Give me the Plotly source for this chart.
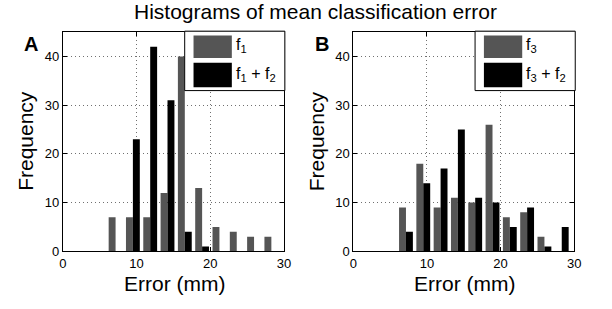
import plotly.graph_objects as go
from plotly.subplots import make_subplots

bin_centers = [7.15, 9.5, 11.85, 14.2, 16.55, 18.9, 21.25, 23.6, 25.95, 28.3]
f1 = [7, 7, 7, 12, 40, 13, 5, 4, 3, 3]
f1_f2 = [0, 23, 42, 31, 4, 1, 0, 0, 0, 0]
f3 = [9, 18, 9, 11, 10, 26, 7, 8, 3, 0]
f3_f2 = [4, 14, 17, 25, 11, 10, 5, 9, 1, 5]
x_ticks = [0, 10, 20, 30]
y_ticks = [0, 10, 20, 30, 40]

GRAY = "#555555"
BLACK = "#000000"
FONT = "Arial, Liberation Sans, sans-serif"
W, H = 612, 309

fig = make_subplots(rows=1, cols=2)
fig.add_trace(go.Bar(x=bin_centers, y=f1, marker_color=GRAY, marker_line_width=0, showlegend=False), 1, 1)
fig.add_trace(go.Bar(x=bin_centers, y=f1_f2, marker_color=BLACK, marker_line_width=0, showlegend=False), 1, 1)
fig.add_trace(go.Bar(x=bin_centers, y=f3, marker_color=GRAY, marker_line_width=0, showlegend=False), 1, 2)
fig.add_trace(go.Bar(x=bin_centers, y=f3_f2, marker_color=BLACK, marker_line_width=0, showlegend=False), 1, 2)

def px(x):
    return x / W

def py(y):
    return 1 - y / H

panels = [(60, 285), (355.7, 580.7)]
top, bottom = 33, 258

axis_common = dict(showline=True, linecolor="black", linewidth=1, mirror="ticks",
                   ticks="inside", ticklen=4, tickcolor="black",
                   showgrid=True, gridcolor="#707070", griddash="1px,3px", gridwidth=1,
                   zeroline=False, tickfont=dict(family=FONT, size=13, color="black"))

for i, (l, r) in enumerate(panels):
    xa = "xaxis" if i == 0 else "xaxis2"
    ya = "yaxis" if i == 0 else "yaxis2"
    fig.layout[xa].update(domain=[px(l), px(r)], range=[0, 30], tickvals=x_ticks, **axis_common)
    fig.layout[ya].update(domain=[py(bottom), py(top)], range=[0, 45], tickvals=y_ticks, **axis_common)

layout_annots = []
layout_annots.append(dict(text="Histograms of mean classification error", x=px(317),
                          y=py(12), xref="paper", yref="paper", showarrow=False,
                          font=dict(family=FONT, size=21, color="black"), xanchor="center", yanchor="middle"))
for i, (l, r) in enumerate(panels):
    layout_annots.append(dict(text="Error (mm)", x=px((l + r) / 2 + 1), y=py(291), xref="paper", yref="paper",
                              showarrow=False, font=dict(family=FONT, size=21, color="black"),
                              xanchor="center", yanchor="middle"))
    layout_annots.append(dict(text="Frequency", x=px(l - 38), y=py(145), xref="paper", yref="paper",
                              showarrow=False, textangle=-90, font=dict(family=FONT, size=21, color="black"),
                              xanchor="center", yanchor="middle"))
    layout_annots.append(dict(text="<b>" + "AB"[i] + "</b>", x=px(l - 32), y=py(45), xref="paper", yref="paper",
                              showarrow=False, font=dict(family=FONT, size=20, color="black"),
                              xanchor="center", yanchor="middle"))

legend_labels = [["f<sub>1</sub>", "f<sub>1</sub> + f<sub>2</sub>"],
                 ["f<sub>3</sub>", "f<sub>3</sub> + f<sub>2</sub>"]]
shapes = []
for i, (l, r) in enumerate(panels):
    bl, br, bt, bb = r - 101, r + 1, 32, 93
    shapes.append(dict(type="rect", xref="paper", yref="paper", x0=px(bl), x1=px(br), y0=py(bb), y1=py(bt),
                       line=dict(color="black", width=1), fillcolor="white", layer="above"))
    for j, (col, (t0, t1)) in enumerate([(GRAY, (36.5, 59.5)), (BLACK, (64.5, 89.5))]):
        shapes.append(dict(type="rect", xref="paper", yref="paper", x0=px(bl + 9), x1=px(bl + 48),
                           y0=py(t1), y1=py(t0), line=dict(color=col, width=0), fillcolor=col, layer="above"))
        layout_annots.append(dict(text=legend_labels[i][j], x=px(bl + 50), y=py((t0 + t1) / 2 - 1),
                                  xref="paper", yref="paper", showarrow=False,
                                  font=dict(family=FONT, size=16, color="black"),
                                  xanchor="left", yanchor="middle"))

fig.update_layout(width=W, height=H, margin=dict(l=0, r=0, t=0, b=0),
                  paper_bgcolor="white", plot_bgcolor="white",
                  barmode="group", bargap=0.2, bargroupgap=0,
                  annotations=layout_annots, shapes=shapes, showlegend=False)

post = ("document.documentElement.style.margin='0px';document.body.style.margin='0px';"
        "document.documentElement.style.overflow='hidden';document.body.style.overflow='hidden';")
fig.write_html("out.html", post_script=post, config={"displayModeBar": False})
